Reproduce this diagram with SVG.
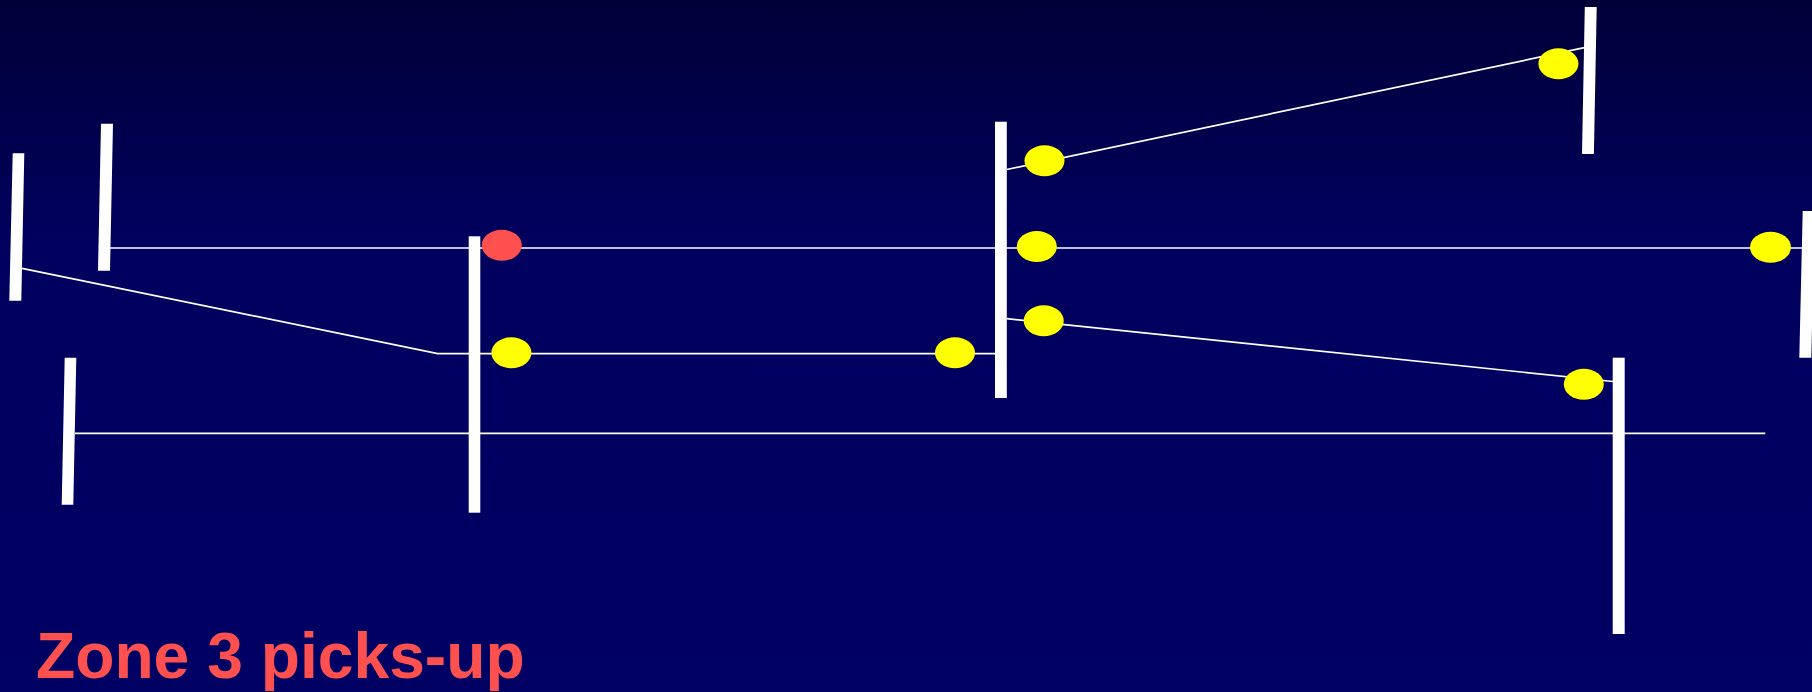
<svg xmlns="http://www.w3.org/2000/svg" width="1812" height="692" viewBox="0 0 1812 692">
  <defs>
    <linearGradient id="bg" x1="0" y1="0" x2="0" y2="1">
      <stop offset="0" stop-color="#000038"/>
      <stop offset="0.35" stop-color="#00005e"/>
      <stop offset="1" stop-color="#000064"/>
    </linearGradient>
  </defs>
  <style>
    .bar { fill: #ffffff; }
    .wire { stroke: #ffffff; stroke-width: 1.7; fill: none; }
    .ins { fill: #ffff00; }
    .hot { fill: #ff5050; }
    .label { font-family: "Liberation Sans", Arial, sans-serif; font-weight: bold; font-size: 64.2px; fill: #ff5050; }
  </style>
  <rect width="1812" height="692" fill="url(#bg)"/>

  <g id="connectors">
    <polyline class="wire" points="110,248 1806,248"/>
    <polyline class="wire" points="22,268.3 437.7,353.7 995,353.7"/>
    <polyline class="wire" points="75,433.3 1765.3,433.3"/>
    <polyline class="wire" points="1006.7,169.5 1584.4,47.7"/>
    <polyline class="wire" points="1006.7,318.7 1613,381.5"/>
  </g>

  <g id="bar-a"><polygon class="bar" points="12.7,153.3 24.3,153.3 21.3,300.7 9.3,300.7"/></g>
  <g id="bar-b"><polygon class="bar" points="101,123.7 113,123.7 110,270.7 98,270.7"/></g>
  <g id="bar-c"><polygon class="bar" points="64.7,357.7 76.3,357.7 73.3,504.7 61.7,504.7"/></g>
  <g id="bar-d"><rect class="bar" x="468.7" y="236.3" width="11.6" height="276.4"/></g>
  <g id="bar-e"><rect class="bar" x="995" y="121.7" width="11.8" height="276.3"/></g>
  <g id="bar-f"><polygon class="bar" points="1584.8,7 1596.7,7 1593.9,154 1582,154"/></g>
  <g id="bar-g"><polygon class="bar" points="1802.7,211 1814.7,211 1811.3,357.7 1799.3,357.7"/></g>
  <g id="bar-h"><rect class="bar" x="1612.7" y="357.7" width="12" height="276.3"/></g>

  <g id="pickup-red"><ellipse class="hot" cx="501.8" cy="245.2" rx="20" ry="15.5"/></g>
  <g id="ins-1"><ellipse class="ins" cx="511.4" cy="352.8" rx="20" ry="15.5"/></g>
  <g id="ins-2"><ellipse class="ins" cx="955" cy="352.8" rx="20" ry="15.5"/></g>
  <g id="ins-3"><ellipse class="ins" cx="1044.5" cy="160.8" rx="20" ry="15.5"/></g>
  <g id="ins-4"><ellipse class="ins" cx="1036.8" cy="246.5" rx="20" ry="15.5"/></g>
  <g id="ins-5"><ellipse class="ins" cx="1043.7" cy="320.8" rx="20" ry="15.5"/></g>
  <g id="ins-6"><ellipse class="ins" cx="1558.4" cy="63.7" rx="20" ry="15.5"/></g>
  <g id="ins-7"><ellipse class="ins" cx="1583.8" cy="384.3" rx="20" ry="15.5"/></g>
  <g id="ins-8"><ellipse class="ins" cx="1770.5" cy="247.3" rx="20.5" ry="15.5"/></g>

  <g id="title"><text class="label" x="36" y="677.7">Zone 3 picks-up</text></g>
</svg>
